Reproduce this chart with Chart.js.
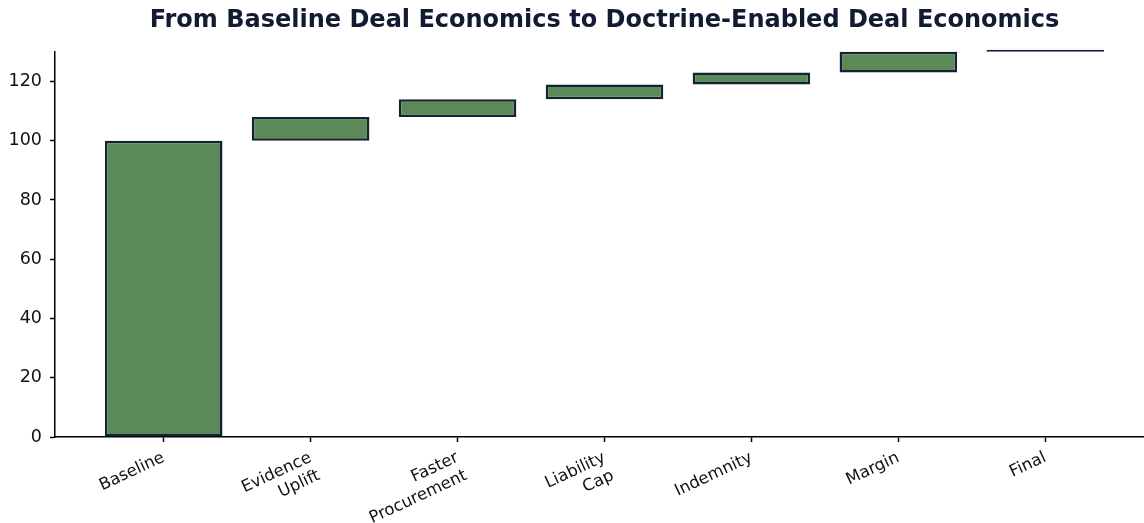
<!DOCTYPE html>
<html>
<head>
<meta charset="utf-8">
<script src="https://cdn.jsdelivr.net/npm/chart.js@4.4.0/dist/chart.umd.min.js"></script>
<style>
  html, body { margin: 0; padding: 0; background: #fff; overflow: hidden; }
  #wrap { width: 1160px; height: 523px; }
</style>
</head>
<body>
<div id="wrap"><canvas id="chart"></canvas></div>
<script>
// waterfall steps
const categories = [['Baseline'], ['Evidence', 'Uplift'], ['Faster', 'Procurement'], ['Liability', 'Cap'], ['Indemnity'], ['Margin'], ['Final']];
const lows  = [0, 100, 108, 114, 119, 123, 130];
const highs = [100, 108, 114, 119, 123, 130, 130];
const yTicks = [0, 20, 40, 60, 80, 100, 120];

const green = '#5b8a58';
const navy = '#132235';

const ctx = document.getElementById('chart').getContext('2d');
new Chart(ctx, {
  type: 'bar',
  data: {
    datasets: [{
      data: categories.map((c, i) => ({ x: i, y: [lows[i], highs[i]] })),
      backgroundColor: highs.map((h, i) => h === lows[i] ? navy : green),
      borderColor: navy,
      borderWidth: 2.5,
      borderSkipped: false,
      barPercentage: 0.8,
      categoryPercentage: 1,
      minBarLength: 2,
      clip: false
    }]
  },
  options: {
    responsive: true,
    maintainAspectRatio: false,
    animation: false,
    layout: { padding: { top: 0, right: 6, bottom: 0, left: 0 } },
    plugins: {
      legend: { display: false },
      tooltip: { enabled: false },
      title: {
        display: true,
        fullSize: false,
        text: 'From Baseline Deal Economics to Doctrine-Enabled Deal Economics',
        color: '#111c33',
        font: { family: 'DejaVu Sans', size: 24, weight: 'bold' },
        padding: { top: 6, bottom: 17 }
      }
    },
    scales: {
      x: {
        type: 'linear',
        offset: false,
        min: -0.74,
        max: 6.74,
        afterBuildTicks: (scale) => { scale.ticks = categories.map((c, i) => ({ value: i })); },
        afterFit: (scale) => { scale.height = 86; },
        grid: { display: true, offset: false, drawOnChartArea: false, tickLength: 5, color: '#000', tickWidth: 1.5 },
        border: { display: true, color: '#000', width: 1.5 },
        ticks: {
          autoSkip: false,
          minRotation: 25,
          maxRotation: 25,
          padding: 6,
          color: '#111',
          font: { family: 'DejaVu Sans', size: 16.5 },
          callback: (v) => categories[v]
        }
      },
      y: {
        min: 0,
        max: 130,
        afterBuildTicks: (scale) => { scale.ticks = yTicks.map(v => ({ value: v })); },
        afterFit: (scale) => { scale.width = 55; },
        grid: { display: true, drawOnChartArea: false, tickLength: 5, color: '#000', tickWidth: 1.5 },
        border: { display: true, color: '#000', width: 1.5 },
        ticks: {
          padding: 8,
          color: '#111',
          font: { family: 'DejaVu Sans', size: 17.5 }
        }
      }
    }
  }
});
</script>
</body>
</html>
